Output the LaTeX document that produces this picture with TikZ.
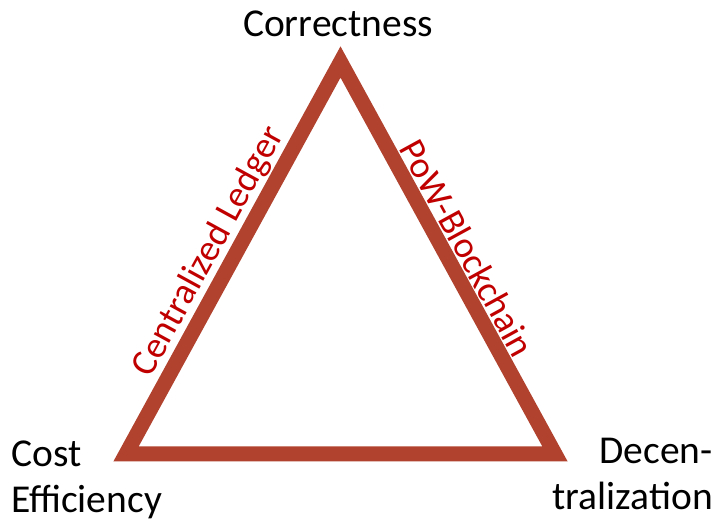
\documentclass[tikz,border=0pt]{standalone}
\usepackage{fontspec}
\setmainfont{Carlito}
\definecolor{tristroke}{RGB}{176,66,46}
\definecolor{labelred}{RGB}{192,0,0}
\begin{document}
\begin{tikzpicture}[x=1pt,y=1pt,
  corner/.style={font=\fontsize{39.5}{46}\selectfont, inner sep=0pt, text=black},
  edgelabel/.style={font=\fontsize{37}{44}\selectfont, text=labelred, sloped, inner sep=0pt},
  tri/.style={draw=tristroke, line width=15pt, line join=miter}]
\useasboundingbox (0,0) rectangle (715,521);
\coordinate (A) at (340.5,459);
\coordinate (B) at (126,67);
\coordinate (C) at (555,67);
\draw[tri] (A) -- (C) -- (B) -- cycle;
\path (B) -- node[edgelabel, pos=0.486, above=8pt] (cl) {Centralized Ledger} (A);
\path (A) -- node[edgelabel, pos=0.502, above=9pt] (pow) {PoW-Blockchain} (C);
\node[corner, anchor=base] (corr) at (338,484) {Correctness};
\node[corner, anchor=base west, align=left] (cost) at (11,8) {Cost\\Efficiency};
\node[corner, anchor=base east, align=right] (dec) at (713,11) {Decen-\\tralization};
\end{tikzpicture}
\end{document}
